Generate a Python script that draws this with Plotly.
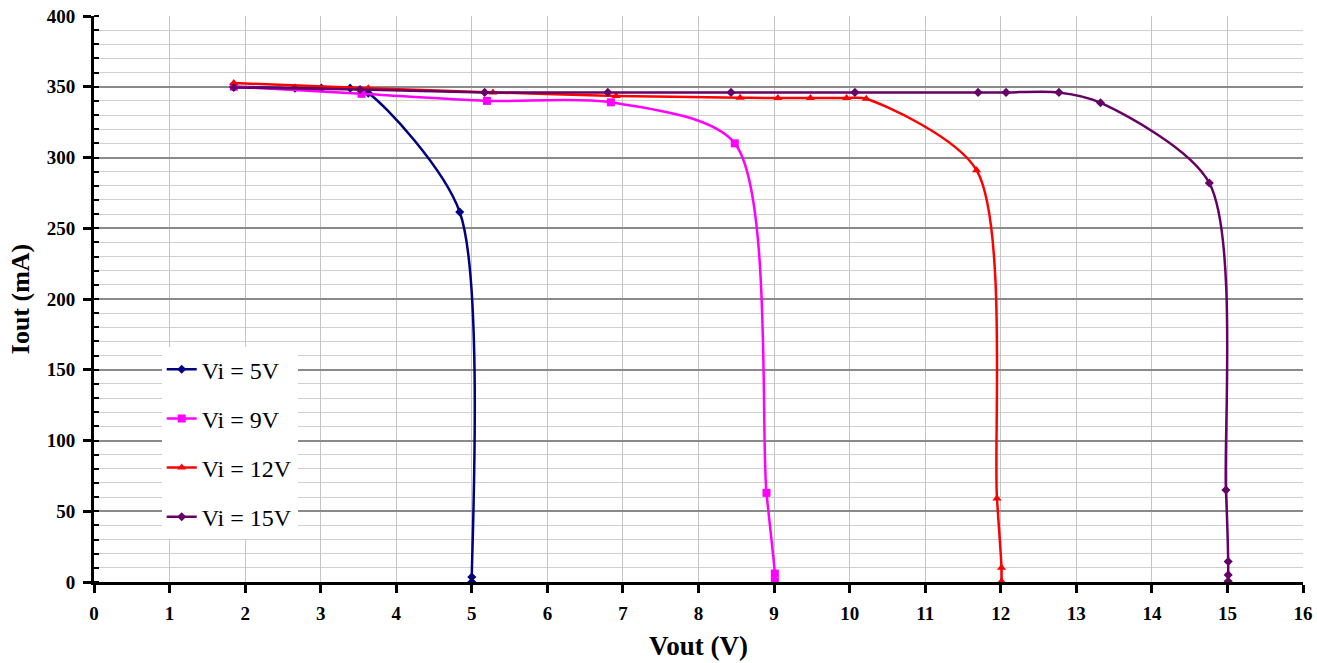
import plotly.graph_objects as go

# Vi = 5V
x5 = [1.85, 2.66, 3.01, 3.39, 3.63, 4.84, 5.0, 5.0]
y5 = [350, 349, 349, 349, 345.5, 261.5, 3.5, 0]
# Vi = 9V
x9 = [1.85, 3.54, 5.2, 6.84, 8.48, 8.9, 9.01, 9.01]
y9 = [350, 345, 340, 339, 310, 63, 6, 0.5]
# Vi = 12V
x12 = [1.85, 3.63, 5.28, 6.91, 8.55, 9.05, 9.48, 9.96, 10.22, 11.68, 11.95, 12.01, 12.01]
y12 = [352.6, 349, 346, 343.5, 342.3, 342, 342, 342, 341.5, 291, 59, 10, 0.5]
# Vi = 15V
x15 = [1.85, 3.52, 5.17, 6.8, 8.43, 10.07, 11.7, 12.07, 12.77, 13.32, 14.76, 14.98, 15.01, 15.01, 15.01]
y15 = [349.5, 348, 346, 346, 346, 346, 346, 346, 346, 338.7, 282, 65, 14.5, 5, 0.5]

series = [
    ("Vi = 5V", x5, y5, "#000080", "diamond", 7),
    ("Vi = 9V", x9, y9, "#FF00FF", "square", 8),
    ("Vi = 12V", x12, y12, "#FF0000", "triangle-up", 8),
    ("Vi = 15V", x15, y15, "#660066", "diamond", 7),
]

fig = go.Figure()
for i, (name, xs, ys, col, sym, ms) in enumerate(series):
    fig.add_trace(go.Scatter(
        x=xs, y=ys, name=name, mode="lines+markers",
        line=dict(color=col, width=2.5, shape="spline", smoothing=0.8),
        marker=dict(symbol=sym, size=ms, color=col),
        legendgroup=f"g{i}",
    ))

serif = "Liberation Serif, Times New Roman, serif"
fig.update_layout(
    width=1317, height=663,
    margin=dict(l=94, r=14, t=16, b=81),
    paper_bgcolor="white", plot_bgcolor="white",
    font=dict(family=serif, color="black"),
    showlegend=True,
    legend=dict(
        x=0.056, y=0.415, xanchor="left", yanchor="top",
        bgcolor="white", borderwidth=0,
        font=dict(family=serif, size=24, color="black"),
        traceorder="grouped", tracegroupgap=15,
        itemwidth=30,
    ),
    xaxis=dict(
        range=[0, 16], dtick=1, tick0=0, automargin=False,
        showline=True, linecolor="black", linewidth=3,
        ticks="outside", ticklen=8, tickwidth=3, tickcolor="black",
        showgrid=True, gridcolor="#c4c4c4", gridwidth=1,
        zeroline=False, ticklabelstandoff=4,
        tickfont=dict(family=serif, size=19, color="black", weight="bold"),
        title=dict(text="<b>Vout (V)</b>", font=dict(family=serif, size=27, color="black"), standoff=14),
    ),
    yaxis=dict(
        range=[0, 400], dtick=50, tick0=0, automargin=False,
        showline=True, linecolor="black", linewidth=3,
        ticks="outside", ticklen=8, tickwidth=3, tickcolor="black",
        showgrid=True, gridcolor="#8a8a8a", gridwidth=1.5,
        zeroline=False, ticklabelstandoff=4,
        minor=dict(dtick=10, ticks="inside", ticklen=5, tickwidth=2, tickcolor="black",
                   showgrid=True, gridcolor="#cfcfcf", gridwidth=1),
        tickfont=dict(family=serif, size=19, color="black", weight="bold"),
        title=dict(text="<b>Iout (mA)</b>", font=dict(family=serif, size=26, color="black"), standoff=10),
    ),
)

fig.write_html("out.html")
